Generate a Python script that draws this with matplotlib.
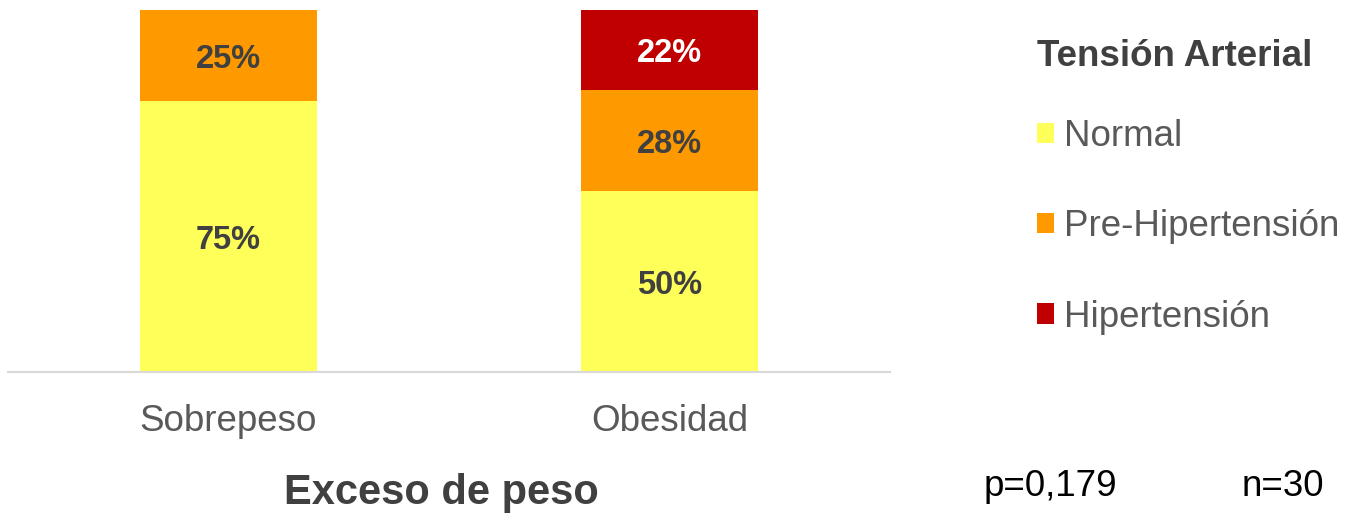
import numpy as np
import matplotlib.pyplot as plt
from matplotlib.patches import Patch

plt.rcParams['font.family'] = ['Liberation Sans', 'DejaVu Sans']

# data
categories = ['Sobrepeso', 'Obesidad']
series = ['Normal', 'Pre-Hipertensión', 'Hipertensión']
normal = [75, 50]
prehta = [25, 28]
hta = [0, 22]
colors = ['#FFFF5A', '#FF9900', '#C00000']
label_colors = ['#404040', '#404040', '#FFFFFF']

fig = plt.figure(figsize=(13.49, 5.15), dpi=100)
ax = fig.add_axes([8/1349, 143/515, 882/1349, 362/515])

x = np.arange(len(categories))
bottom = np.zeros(len(categories))
for vals, col, lc in zip([normal, prehta, hta], colors, label_colors):
    vals = np.array(vals, dtype=float)
    ax.bar(x, vals, 0.4, bottom=bottom, color=col, edgecolor='none')
    for xi, v, b in zip(x, vals, bottom):
        if v > 0:
            ax.annotate(f'{int(v)}%', (xi, b + v / 2), xytext=(0, -3),
                        textcoords='offset points', ha='center', va='center',
                        fontsize=23.5, fontweight='bold', color=lc)
    bottom += vals

ax.set_xlim(-0.5, 1.5)
ax.set_ylim(0, 100)
ax.set_yticks([])
for s in ['top', 'right', 'left']:
    ax.spines[s].set_visible(False)
ax.spines['bottom'].set_color('#D9D9D9')
ax.spines['bottom'].set_linewidth(1.5)
ax.set_xticks(x)
ax.set_xticklabels(categories, fontsize=26.5, color='#595959')
ax.tick_params(axis='x', length=0, pad=23)

fig.text(441/1349, 1 - 493/515, 'Exceso de peso', ha='center', va='center',
         fontsize=30, fontweight='bold', color='#404040')

handles = [Patch(facecolor=c, edgecolor='none') for c in colors]
leg = fig.legend(handles, series, loc='upper left',
                 bbox_to_anchor=(1019/1349, 1 - 21/515), frameon=False,
                 fontsize=26.5, title='Tensión Arterial',
                 title_fontproperties={'size': 26.5, 'weight': 'bold'},
                 labelspacing=1.5, handlelength=0.46, handleheight=0.46,
                 handletextpad=0.27, borderpad=0)
leg._legend_box.align = 'left'
# tighter gap between title and first entry
leg._legend_box.sep = 1.5 * 26.5 - 7.5
leg.get_title().set_color('#404040')
for t in leg.get_texts():
    t.set_color('#595959')

fig.text(1050/1349, 1 - 486/515, 'p=0,179', ha='center', va='center',
         fontsize=26.5, color='black')
fig.text(1283/1349, 1 - 486/515, 'n=30', ha='center', va='center',
         fontsize=26.5, color='black')

fig.savefig('out.png', dpi=100)
